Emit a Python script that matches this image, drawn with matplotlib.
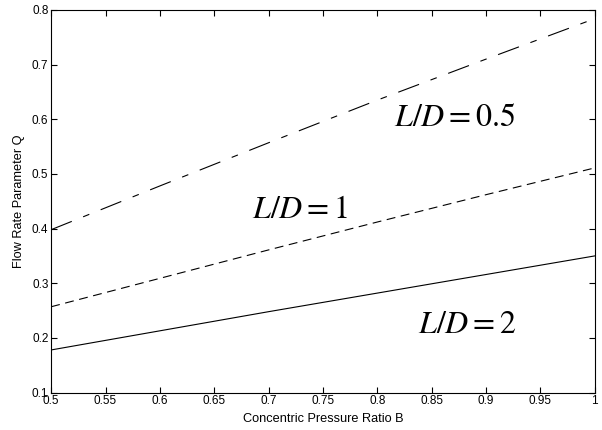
import matplotlib
matplotlib.use("Agg")
from matplotlib import pyplot as plt

plt.rcParams['font.family'] = ['Liberation Sans', 'DejaVu Sans']
plt.rcParams['mathtext.fontset'] = 'stix'

# concentric pressure ratio B
b = [0.5, 0.6, 0.7, 0.8, 0.9, 1.0]
# flow rate parameter Q for each L/D
q_05 = [0.398, 0.478, 0.557, 0.635, 0.710, 0.784]
q_1 = [0.257, 0.309, 0.361, 0.412, 0.462, 0.511]
q_2 = [0.178, 0.213, 0.248, 0.282, 0.316, 0.350]

fig = plt.figure(figsize=(6.02, 4.30), dpi=100)
ax = fig.add_axes([0.085, 0.087, 0.903, 0.89])

ax.plot(b, q_05, color="black", lw=0.8, dashes=(20, 11, 6, 11))
ax.plot(b, q_1, color="black", lw=0.8, dashes=(8, 5))
ax.plot(b, q_2, color="black", lw=0.8)

ax.text(0.871, 0.602, r"$L/D=0.5$", fontsize=23, ha="center", va="center")
ax.text(0.729, 0.434, r"$L/D=1$", fontsize=23, ha="center", va="center")
ax.text(0.883, 0.224, r"$L/D=2$", fontsize=23, ha="center", va="center")

ax.set_xlim(0.5, 1.0)
ax.set_ylim(0.1, 0.8)
ax.set_xticks([0.5, 0.55, 0.6, 0.65, 0.7, 0.75, 0.8, 0.85, 0.9, 0.95, 1.0])
ax.set_xticklabels(["0.5", "0.55", "0.6", "0.65", "0.7", "0.75", "0.8",
                    "0.85", "0.9", "0.95", "1"])
ax.set_yticks([0.1, 0.2, 0.3, 0.4, 0.5, 0.6, 0.7, 0.8])
ax.set_yticklabels(["0.1", "0.2", "0.3", "0.4", "0.5", "0.6", "0.7", "0.8"])
ax.tick_params(direction="in", top=True, right=True, labelsize=8.5,
               length=4, width=0.8, pad=2)
for s in ax.spines.values():
    s.set_linewidth(0.8)

ax.set_xlabel("Concentric Pressure Ratio B", fontsize=9.2, labelpad=4)
ax.set_ylabel("Flow Rate Parameter Q", fontsize=9.2, labelpad=5)

plt.savefig("out.png", dpi=100)
